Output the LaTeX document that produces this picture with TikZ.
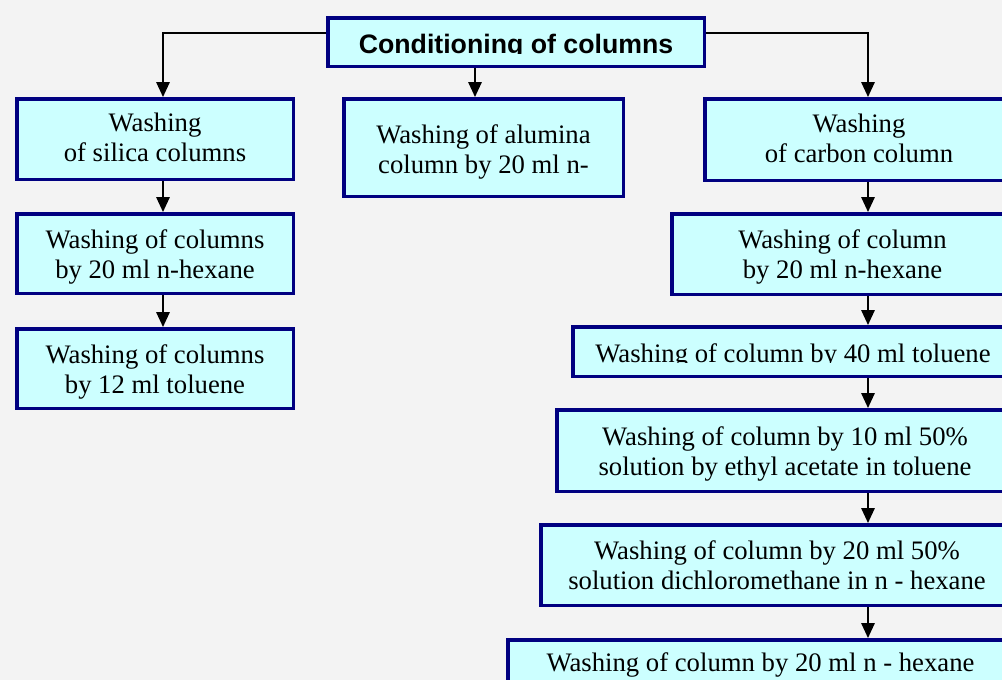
\documentclass[tikz,border=0pt]{standalone}
\usepackage{fontspec}
\setmainfont{Liberation Serif}
\newfontfamily\arialf{Liberation Sans}
\usetikzlibrary{arrows.meta}
\definecolor{bgc}{RGB}{243,243,243}
\definecolor{boxfill}{RGB}{204,255,255}
\definecolor{boxline}{RGB}{0,0,128}
\newcommand\tlines[1]{\begin{tabular}[t]{@{}c@{}}#1\end{tabular}}
\begin{document}
\begin{tikzpicture}[x=1pt,y=-1pt,
  wbox/.style={draw=boxline, fill=boxfill, line width=3.5pt, inner sep=0pt,
    font=\fontsize{26.7}{30}\selectfont, text height=10pt, text depth=21pt},
  conn/.style={draw=black, line width=1.6pt, -{Triangle[length=15pt,width=13.5pt]}},
  cover/.style={fill=boxfill}]
\useasboundingbox (0,0) rectangle (1002,680);
\fill[bgc] (0,0) rectangle (1002,680);
\clip (0,0) rectangle (1002,680);

% top
\node[wbox, minimum width=376.5pt, minimum height=48.5pt, text height=22pt, text depth=0pt,
  font=\fontsize{26.7}{30}\selectfont\arialf\bfseries] (top) at (516,42) {Conditioning of columns};
\fill[cover] ([shift={(3.5pt,-1.2pt)}]top.base west) rectangle ([shift={(-3.5pt,3.5pt)}]top.south east);

% left column
\node[wbox, minimum width=276.5pt, minimum height=80.5pt, text depth=24.6pt] (l1) at (155,139)
  {\tlines{Washing\\of silica columns}};
\node[wbox, minimum width=276.5pt, minimum height=79.5pt] (l2) at (155,253.5)
  {\tlines{Washing of columns\\by 20 ml n-hexane}};
\node[wbox, minimum width=276.5pt, minimum height=79.5pt] (l3) at (155,368.5)
  {\tlines{Washing of columns\\by 12 ml toluene}};

% middle
\node[wbox, minimum width=279.5pt, minimum height=97.5pt, text depth=18.6pt] (m) at (483.5,147.5)
  {\tlines{Washing of alumina\\column by 20 ml n-}};

% right column
\node[wbox, minimum width=308.5pt, minimum height=81.5pt, text depth=24.6pt] (r1) at (859,139.5)
  {\tlines{Washing\\of carbon column}};
\node[wbox, minimum width=341.5pt, minimum height=80.5pt] (r2) at (842.5,254)
  {\tlines{Washing of column\\by 20 ml n-hexane}};
\node[wbox, minimum width=440.5pt, minimum height=49.5pt, text height=21pt, text depth=0pt] (r3) at (793,351.5)
  {Washing of column by 40 ml toluene};
\fill[cover] ([shift={(3.5pt,-1.2pt)}]r3.base west) rectangle ([shift={(-3.5pt,3.5pt)}]r3.south east);
\node[wbox, minimum width=456.5pt, minimum height=81.5pt] (r4) at (785,450.5)
  {\tlines{Washing of column by 10 ml 50\%\\solution by ethyl acetate in toluene}};
\node[wbox, minimum width=472.5pt, minimum height=80.5pt] (r5) at (777,565)
  {\tlines{Washing of column by 20 ml 50\%\\solution dichloromethane in n - hexane}};
\node[wbox, minimum width=505.5pt, minimum height=58.5pt, text height=5.4pt, text depth=0pt] (r6) at (760.5,669)
  {Washing of column by 20 ml n - hexane};

% connectors
\coordinate (ly) at (0,33);
\coordinate (rx) at (868,0);
\draw[conn] (top.west |- ly) -| ([xshift=8pt]l1.north);
\draw[conn] (top.east |- ly) -| (r1.north -| rx);
\draw[conn] ([xshift=-8.5pt]m.north |- top.south) -- ([xshift=-8.5pt]m.north);
\draw[conn] ([xshift=8pt]l1.south) -- ([xshift=8pt]l2.north);
\draw[conn] ([xshift=8pt]l2.south) -- ([xshift=8pt]l3.north);
\draw[conn] (r1.south -| rx) -- (r2.north -| rx);
\draw[conn] (r2.south -| rx) -- (r3.north -| rx);
\draw[conn] (r3.south -| rx) -- (r4.north -| rx);
\draw[conn] (r4.south -| rx) -- (r5.north -| rx);
\draw[conn] (r5.south -| rx) -- (r6.north -| rx);
\end{tikzpicture}
\end{document}
